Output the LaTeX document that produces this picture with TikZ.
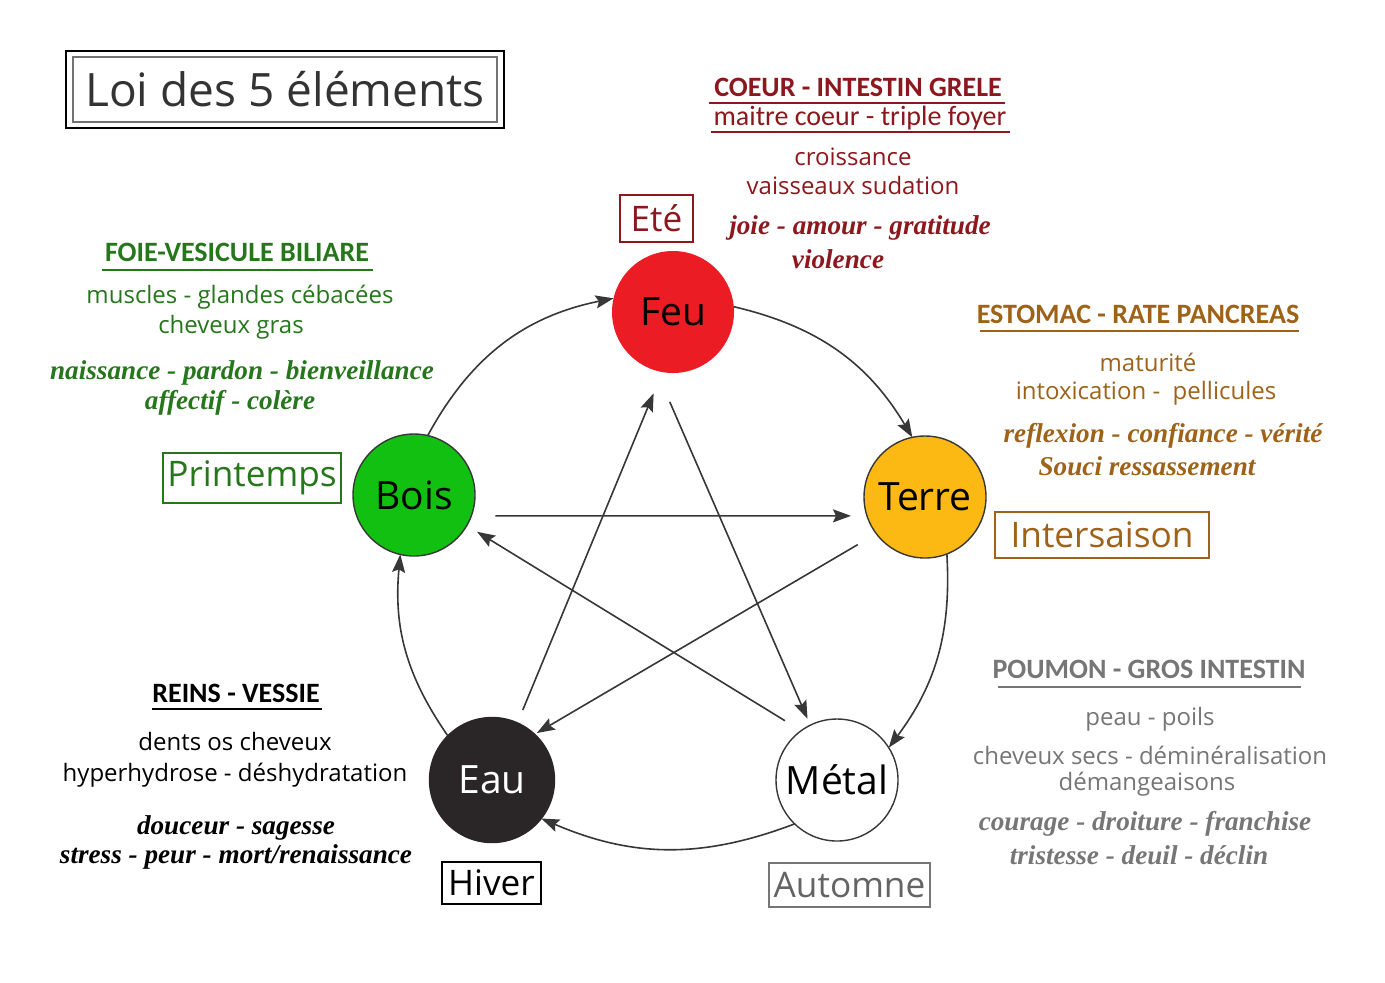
\documentclass[tikz,border=0pt]{standalone}
\usepackage{fontspec}
\setmainfont{Open Sans}
\newfontfamily\calfont{Carlito}
\newfontfamily\tmsfont{Liberation Serif}
\usetikzlibrary{arrows.meta}
\definecolor{cred}{RGB}{140,24,30}
\definecolor{cgreen}{RGB}{38,118,28}
\definecolor{cbrown}{RGB}{158,98,24}
\definecolor{cgray}{RGB}{118,118,118}
\definecolor{feuc}{RGB}{236,28,36}
\definecolor{boisc}{RGB}{18,192,18}
\definecolor{terrec}{RGB}{253,185,19}
\definecolor{eauc}{RGB}{42,38,39}
\definecolor{linec}{RGB}{55,55,55}
\tikzset{
  elem/.style={circle, minimum size=61pt, inner sep=0pt, outer sep=0pt, draw=linec, line width=0.7pt, font=\fontsize{19.5}{22}\selectfont},
  arr/.style={-{Stealth[length=9pt,width=6.5pt,inset=1.5pt]}, draw=linec, line width=0.8pt},
  head/.style={inner sep=0pt, font=\calfont\bfseries\fontsize{14}{16}\selectfont},
  comic/.style={inner sep=0pt, font=\fontsize{12}{14}\selectfont},
  bi/.style={inner sep=0pt, font=\tmsfont\bfseries\itshape\fontsize{13.6}{16}\selectfont},
  season/.style={draw, line width=0.6pt, inner sep=0pt, font=\fontsize{17.6}{21}\selectfont},
  uline/.style={line width=0.6pt}
}
\begin{document}
\begin{tikzpicture}[x=0.5pt,y=-0.5pt]
\useasboundingbox (0,0) rectangle (1385,982);
\fill[white] (0,0) rectangle (1385,982);

% title
\draw[line width=0.8pt] (66,51) rectangle (504,128);
\draw[black!55, line width=0.6pt] (73,57) rectangle (497,122);
\node[inner sep=0pt, font=\fontsize{23}{27}\selectfont, text=black!80] (title) at (285,89) {Loi des 5 éléments};

% elements
\node[elem, fill=feuc, draw=none] (feu) at (673,312) {Feu};
\node[elem, fill=boisc] (bois) at (414,495) {Bois};
\node[elem, fill=terrec] (terre) at (925,497) {Terre};
\node[elem, fill=eauc, draw=eauc, text=white, minimum size=62.5pt] (eau) at (492,780) {Eau};
\node[elem, fill=white] (metal) at (837,780) {Métal};

% cycle arrows
\draw[arr] (bois.77) to[bend left=25] (feu.167);
\draw[arr] (feu.5) to[bend left=23] (terre.102);
\draw[arr] (terre.-69) to[bend left=20] (metal.32);
\draw[arr] (metal.226) to[bend left=22] (eau.-38);
\draw[arr] (eau.135) to[bend left=20] (bois.257);

% star arrows
\draw[arr, shorten <=12pt, shorten >=8pt] (bois.-20.5) -- (terre.198.1);
\draw[arr, shorten <=10.75pt, shorten >=1.25pt] (terre.217.5) -- (eau.47.6);
\draw[arr, shorten <=9.5pt, shorten >=6pt] (metal.126.7) -- (bois.-30.7);
\draw[arr, shorten <=7pt, shorten >=11.5pt] (eau.66.6) -- (feu.-100.7);
\draw[arr, shorten <=17pt, shorten >=3.5pt] (feu.254.2) -- (metal.116.1);

% seasons
\node[season, draw=cred, text=cred, minimum width=36.5pt, minimum height=23.5pt] (ete) at (656.5,218.5) {Eté};
\node[season, draw=cgreen, text=cgreen, minimum width=89pt, minimum height=25pt] (printemps) at (252,478) {Printemps};
\node[season, draw=cbrown, text=cbrown, minimum width=107pt, minimum height=23pt] (intersaison) at (1102,535) {Intersaison};
\node[season, draw=black, text=black, minimum width=49.5pt, minimum height=21pt] (hiver) at (491.5,883) {Hiver};
\node[season, draw=cgray, text=cgray!85!black, minimum width=80.5pt, minimum height=22pt] (automne) at (849.5,885) {Automne};

% red group
\node[head, text=cred] (hcoeur) at (858,87) {COEUR - INTESTIN GRELE};
\draw[uline, draw=cred] (709,103) -- (1005,103);
\node[inner sep=0pt, text=cred, font=\calfont\fontsize{14}{16}\selectfont] (r1) at (860,118) {maitre coeur - triple foyer};
\draw[uline, draw=cred] (711,132) -- (1010,132);
\node[comic, text=cred] (r2) at (853,157) {croissance};
\node[comic, text=cred] (r3) at (853,185) {vaisseaux sudation};
\node[bi, text=cred] (r4) at (860,228) {joie - amour - gratitude};
\node[bi, text=cred] (r5) at (838,259) {violence};

% green group
\node[head, text=cgreen] (hfoie) at (237,252) {FOIE-VESICULE BILIARE};
\draw[uline, draw=cgreen] (102,270) -- (373,270);
\node[comic, text=cgreen] (g1) at (240,297) {muscles - glandes cébacées};
\node[comic, text=cgreen] (g2) at (231,327) {cheveux gras};
\node[bi, text=cgreen] (g3) at (242,373) {naissance - pardon - bienveillance};
\node[bi, text=cgreen] (g4) at (230,403) {affectif - colère};

% brown group
\node[head, text=cbrown] (hest) at (1138,314) {ESTOMAC - RATE PANCREAS};
\draw[uline, draw=cbrown] (980,331) -- (1299,331);
\node[comic, text=cbrown] (b1) at (1148,362) {maturité};
\node[comic, text=cbrown] (b2) at (1146,393) {intoxication -\ \ pellicules};
\node[bi, text=cbrown] (b3) at (1163,436) {reflexion - confiance - vérité};
\node[bi, text=cbrown] (b4) at (1147,466) {Souci ressassement};

% black group
\node[head, text=black] (hrein) at (236,693) {REINS - VESSIE};
\draw[uline, draw=black] (152,709) -- (322,709);
\node[comic, text=black] (k1) at (235,741) {dents os cheveux};
\node[comic, text=black] (k2) at (235,775) {hyperhydrose - déshydratation};
\node[bi, text=black] (k3) at (236,828) {douceur - sagesse};
\node[bi, text=black] (k4) at (236,857) {stress - peur - mort/renaissance};

% gray group
\node[head, text=cgray] (hpoum) at (1149,669) {POUMON - GROS INTESTIN};
\draw[uline, draw=cgray] (998,687) -- (1301,687);
\node[comic, text=cgray] (p1) at (1150,719) {peau - poils};
\node[comic, text=cgray] (p2) at (1150,755) {cheveux secs - déminéralisation};
\node[comic, text=cgray] (p3) at (1147,784) {démangeaisons};
\node[bi, text=cgray] (p4) at (1145,824) {courage - droiture - franchise};
\node[bi, text=cgray] (p5) at (1139,855) {tristesse - deuil - déclin};
\end{tikzpicture}
\end{document}
